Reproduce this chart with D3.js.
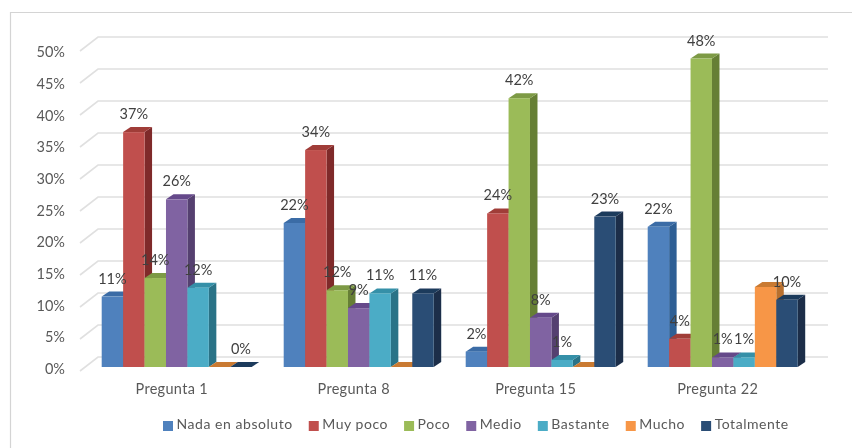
<!DOCTYPE html>
<html><head><meta charset="utf-8">
<script src="https://cdn.jsdelivr.net/npm/d3@7"></script>
<style>html,body{margin:0;padding:0;background:#fff}svg{display:block}text{font-family:Lato,"Open Sans",sans-serif;fill:#595959}</style>
</head><body><svg id="c" width="852" height="448"></svg>
<script>
const categories = ["Pregunta 1","Pregunta 8","Pregunta 15","Pregunta 22"];
const seriesNames = ["Nada en absoluto","Muy poco","Poco","Medio","Bastante","Mucho","Totalmente"];
const nada = [11.0,22.5,2.4,21.9];
const muyPoco = [36.7,33.9,24.0,4.4];
const poco = [13.9,12.0,42.0,48.2];
const medio = [26.2,9.2,7.7,1.5];
const bastante = [12.4,11.5,1.1,1.5];
const mucho = [0,0,0,12.5];
const totalmente = [0,11.5,23.5,10.5];
const labelsNada = ["11%","22%","2%","22%"];
const labelsMuyPoco = ["37%","34%","24%","4%"];
const labelsPoco = ["14%","12%","42%","48%"];
const labelsMedio = ["26%","9%","8%","1%"];
const labelsBastante = ["12%","11%","1%","1%"];
const labelsMucho = ["","","",""];
const labelsTotalmente = ["0%","11%","23%","10%"];
const front = ["#4f81bd","#c0504d","#9bbb59","#8064a2","#4bacc6","#f79646","#2c4d75"];
const side = ["#2f5f95","#7f2c2a","#667f35","#553f70","#2c7387","#b96f2d","#1b2f48"];
const top_ = ["#3a6ca6","#a03c39","#7d9a45","#65498a","#3590a8","#c97a32","#1f3a5c"];
const ticks = [0,5,10,15,20,25,30,35,40,45,50];

const values=[nada,muyPoco,poco,medio,bastante,mucho,totalmente];
const labels=[labelsNada,labelsMuyPoco,labelsPoco,labelsMedio,labelsBastante,labelsMucho,labelsTotalmente];
const svg=d3.select("#c");
svg.append("defs").append("filter").attr("id","soft").attr("filterUnits","userSpaceOnUse").attr("x",0).attr("y",0).attr("width",852).attr("height",448)
  .append("feGaussianBlur").attr("stdDeviation",0.45);
const root=svg.append("g").attr("filter","url(#soft)");

const x0=d3.scaleBand().domain(categories).range([85.7,813.7]).paddingInner(32/182).paddingOuter(16/182);
const x1=d3.scaleBand().domain(d3.range(7)).range([0,x0.bandwidth()]);
const yFront=d3.scaleLinear().domain([0,50]).range([367,47]);
const yBack=d3.scaleLinear().domain([0,50]).range([357,37]);
const yWall=d3.scaleLinear().domain([0,50]).range([371,51]);
const yLabel=d3.scaleLinear().domain([0,50]).range([369,52]);
const dx=7.5,dy=5;

root.append("path").attr("d","M10.5,448V12.5H852").attr("fill","none").attr("stroke","#d4d4d4").attr("stroke-width",1.2);
root.append("g").selectAll("path").data(ticks).join("path")
 .attr("d",t=>`M80,${yWall(t)}L98,${yBack(t)}H828`).attr("fill","none").attr("stroke","#e0e0e0").attr("stroke-width",1.6);
const axis=d3.axisLeft(yLabel).tickValues(ticks).tickSize(0).tickPadding(0).tickFormat(d=>d+"%");
const ag=root.append("g").attr("transform","translate(65,0)").call(axis);
ag.select(".domain").remove();
ag.selectAll("text").attr("font-size",14.5).style("font-family",'Lato,sans-serif');
categories.forEach((c,ci)=>{
  const g=root.append("g");
  values.forEach((s,si)=>{
    const v=s[ci],x=x0(c)+x1(si),w=x1.bandwidth(),t=yFront(v),b=yFront(0);
    g.append("path").attr("d",`M${x+w},${t}L${x+w+dx},${t-dy}V${b-dy}L${x+w},${b}Z`).attr("fill",side[si]);
    g.append("path").attr("d",`M${x},${t}L${x+dx},${t-dy}H${x+w+dx}L${x+w},${t}Z`).attr("fill",top_[si]);
    if(v>0) g.append("rect").attr("x",x).attr("y",t).attr("width",w).attr("height",b-t).attr("fill",front[si]);
  });
});
categories.forEach((c,ci)=>{
  labels.forEach((l,si)=>{
    if(!l[ci])return;
    root.append("text").attr("x",x0(c)+x1(si)+x1.bandwidth()/2).attr("y",yFront(values[si][ci])-18)
      .attr("dy","0.35em").attr("text-anchor","middle").attr("font-size",14.5).style("fill","#404040").text(l[ci]);
  });
});
root.append("g").selectAll("text").data(categories).join("text")
  .attr("x",d=>x0(d)+x0.bandwidth()/2-5).attr("y",389).attr("dy","0.35em").attr("text-anchor","middle").attr("font-size",14.5).style("letter-spacing","0.3px").text(d=>d);
let lx=163;
seriesNames.forEach((n,i)=>{
  root.append("rect").attr("x",lx).attr("y",421).attr("width",10).attr("height",10).attr("fill",front[i]);
  const t=root.append("text").attr("x",lx+13.5).attr("y",424.5).attr("dy","0.35em").attr("font-size",14).style("letter-spacing","0.55px").text(n);
  lx+=13.5+t.node().getComputedTextLength()+16;
});
</script></body></html>
